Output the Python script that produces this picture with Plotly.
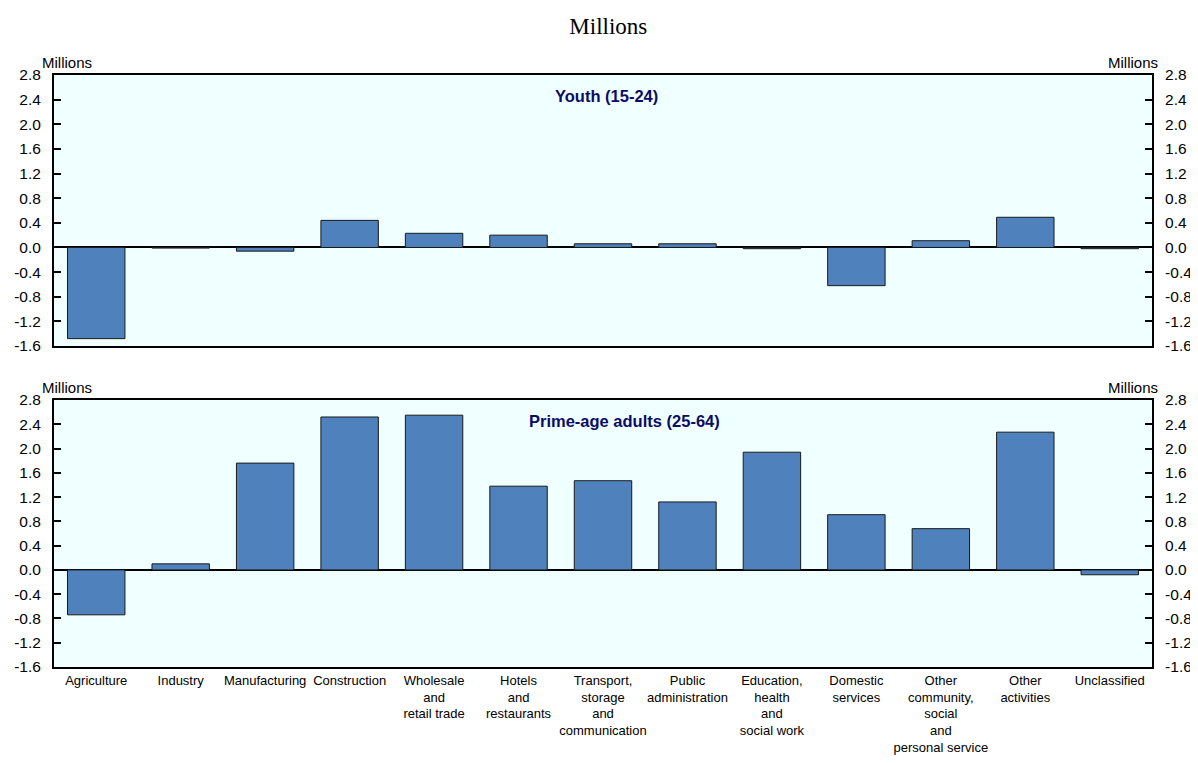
import plotly.graph_objects as go

categories = ["Agriculture", "Industry", "Manufacturing", "Construction",
              "Wholesale<br>and<br>retail trade", "Hotels<br>and<br>restaurants",
              "Transport,<br>storage<br>and<br>communication", "Public<br>administration",
              "Education,<br>health<br>and<br>social work", "Domestic<br>services",
              "Other<br>community,<br>social<br>and<br>personal service",
              "Other<br>activities", "Unclassified"]
youth = [-1.48, -0.01, -0.06, 0.44, 0.23, 0.20, 0.06, 0.06, -0.02, -0.62, 0.11, 0.49, -0.02]
prime = [-0.74, 0.10, 1.76, 2.52, 2.55, 1.38, 1.47, 1.12, 1.94, 0.91, 0.68, 2.27, -0.08]
tick_vals = [2.8, 2.4, 2.0, 1.6, 1.2, 0.8, 0.4, 0.0, -0.4, -0.8, -1.2, -1.6]
tick_text = ["%.1f" % v for v in tick_vals]

BAR = "#4F81BD"
BG = "#F0FFFF"
FONT = "Liberation Sans, Arial, sans-serif"
idx = list(range(len(categories)))

fig = go.Figure()
fig.add_trace(go.Bar(x=idx, y=youth, xaxis="x", yaxis="y", marker=dict(color=BAR, line=dict(color="#1a1a1a", width=1)),
                     width=0.68, showlegend=False, hoverinfo="y"))
fig.add_trace(go.Bar(x=idx, y=prime, xaxis="x2", yaxis="y2", marker=dict(color=BAR, line=dict(color="#1a1a1a", width=1)),
                     width=0.68, showlegend=False, hoverinfo="y"))
# invisible traces to anchor right-side axes
fig.add_trace(go.Scatter(x=[0], y=[0], xaxis="x", yaxis="y3", mode="markers", marker=dict(opacity=0), showlegend=False, hoverinfo="skip"))
fig.add_trace(go.Scatter(x=[0], y=[0], xaxis="x2", yaxis="y4", mode="markers", marker=dict(opacity=0), showlegend=False, hoverinfo="skip"))

rng = [-1.6, 2.8]
d1 = [0.5422, 1.0]
d2 = [0.0, 0.451]

yax_common = dict(range=rng, tickmode="array", tickvals=tick_vals, ticktext=tick_text, ticks="inside", ticklen=7,
                  tickcolor="#000000", tickwidth=2, showgrid=False, showline=True, linecolor="black", linewidth=2,
                  tickfont=dict(family=FONT, size=15.5, color="black"), ticklabelstandoff=8,
                  automargin=False, fixedrange=True, layer="above traces")
xax_common = dict(range=[-0.5, 12.5], showgrid=False, showline=True, linecolor="black", linewidth=2,
                  mirror=True, ticks="", automargin=False, fixedrange=True)

fig.update_layout(
    width=1190, height=755,
    margin=dict(l=46, r=46, t=67, b=96, autoexpand=False),
    paper_bgcolor="white", plot_bgcolor=BG,
    font=dict(family=FONT, color="black"),
    bargap=0.3,
    xaxis=dict(**xax_common, domain=[0, 1], anchor="y", showticklabels=False),
    xaxis2=dict(**xax_common, domain=[0, 1], anchor="y2", tickvals=idx, ticktext=categories,
                tickfont=dict(family=FONT, size=13, color="black"), tickangle=0),
    yaxis=dict(**yax_common, domain=d1, anchor="x", zeroline=True, zerolinecolor="black", zerolinewidth=2),
    yaxis2=dict(**yax_common, domain=d2, anchor="x2", zeroline=True, zerolinecolor="black", zerolinewidth=2),
    yaxis3=dict(**yax_common, domain=d1, anchor="x", overlaying="y", side="right", zeroline=False),
    yaxis4=dict(**yax_common, domain=d2, anchor="x2", overlaying="y2", side="right", zeroline=False),
    title=dict(text="Millions", x=0.5045, xanchor="center", y=0.976, yanchor="middle",
               font=dict(family="Liberation Serif, Times New Roman, serif", size=23, color="black")),
)

ann = []
for yp in [d1[1], d2[1]]:
    ann.append(dict(text="Millions", xref="paper", yref="paper", x=-0.013, y=yp, xanchor="left", yanchor="bottom",
                    showarrow=False, yshift=2, font=dict(family=FONT, size=15, color="black")))
    ann.append(dict(text="Millions", xref="paper", yref="paper", x=1.007, y=yp, xanchor="right", yanchor="bottom",
                    showarrow=False, yshift=2, font=dict(family=FONT, size=15, color="black")))
ann.append(dict(text="<b>Youth (15-24)</b>", xref="paper", yref="paper", x=0.5036, y=d1[1], xanchor="center",
                yanchor="top", yshift=-10, showarrow=False, font=dict(family=FONT, size=16.5, color="#0C0C66")))
ann.append(dict(text="<b>Prime-age adults (25-64)</b>", xref="paper", yref="paper", x=0.52, y=d2[1], xanchor="center",
                yanchor="top", yshift=-10, showarrow=False, font=dict(family=FONT, size=16.5, color="#0C0C66")))
fig.update_layout(annotations=ann)

fig.write_html("out.html")
